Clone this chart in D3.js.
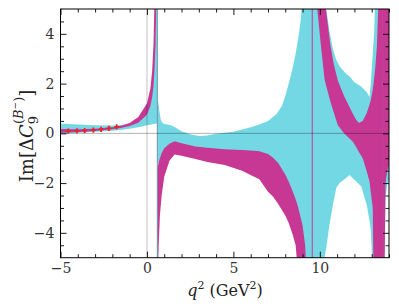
<!DOCTYPE html>
<html>
<head>
<meta charset="utf-8">
<script src="https://cdn.jsdelivr.net/npm/d3@7"></script>
<style>
  body { margin: 0; background: #fff; }
  svg { display: block; }
  text { font-family: "DejaVu Serif", serif; fill: #222; }
</style>
</head>
<body>
<div id="chart"></div>
<script>
// bands as [q2, lower, upper], split at the resonance poles
const cyanA = [[-5, -0.02, 0.40], [-4, 0.02, 0.36], [-3, 0.06, 0.33], [-2, 0.10, 0.32], [-1.5, 0.13, 0.34],
  [-1, 0.18, 0.38], [-0.5, 0.25, 0.52], [0, 0.33, 0.90], [0.2, 0.35, 1.35], [0.3, 0.37, 1.8], [0.4, 0.38, 2.6],
  [0.47, 0.39, 3.6], [0.52, 0.40, 4.6], [0.55, 0.40, 5.5], [0.6, 0.40, 5.5]];
const magentaA = [[-5, 0.02, 0.17], [-4, 0.05, 0.16], [-3, 0.09, 0.18], [-2, 0.16, 0.25], [-1.5, 0.22, 0.31],
  [-1, 0.30, 0.42], [-0.5, 0.43, 0.66], [0, 0.75, 1.2], [0.2, 1.1, 1.8], [0.3, 1.45, 2.5], [0.38, 1.9, 3.6],
  [0.44, 2.6, 5.5], [0.5, 3.6, 5.5], [0.55, 5.5, 5.5]];
const cyanB = [[0.6, -1.2, 1.3], [0.65, -1.2, 1.25], [0.72, -1.1, 0.9], [0.8, -1.0, 0.55], [0.9, -0.9, 0.42],
  [1.0, -0.75, 0.38], [1.2, -0.65, 0.36], [1.4, -0.55, 0.33], [1.7, -0.5, 0.22], [2.0, -0.55, 0.08],
  [2.5, -0.65, -0.04], [3.0, -0.7, -0.11], [3.5, -0.75, -0.09], [4.0, -0.8, -0.02], [5.0, -0.85, 0.06],
  [6.0, -0.9, 0.25], [6.5, -0.95, 0.36], [7.0, -1.05, 0.5], [7.5, -1.4, 0.78], [7.8, -1.7, 1.1],
  [8.0, -2.0, 1.5], [8.2, -2.3, 2.0], [8.44, -2.8, 2.67], [8.6, -3.3, 3.2], [8.79, -4.2, 4.0],
  [8.9, -5.5, 4.6], [9.0, -5.5, 5.5], [9.6, -5.5, 5.5]];
const magentaB = [[0.6, -5.5, -1.4], [0.64, -5.5, -1.3], [0.68, -4.5, -1.15], [0.75, -3.3, -1.0],
  [0.85, -2.5, -0.8], [1.0, -1.75, -0.6], [1.3, -1.1, -0.42], [1.6, -0.85, -0.32], [2.0, -0.9, -0.4],
  [2.8, -1.03, -0.53], [3.5, -1.15, -0.58], [4.5, -1.27, -0.64], [5.5, -1.5, -0.67], [6.2, -1.75, -0.7],
  [6.5, -1.85, -0.72], [7.0, -2.35, -0.83], [7.3, -2.55, -0.98], [7.6, -2.85, -1.2], [8.0, -3.3, -1.65],
  [8.2, -3.6, -1.95], [8.44, -4.1, -2.35], [8.6, -4.5, -2.65], [8.72, -5.5, -2.9], [9.0, -5.5, -3.7],
  [9.15, -5.5, -4.5], [9.22, -5.5, -5.5]];
const cyanC = [[9.6, -5.5, 5.5], [10.2, -5.5, 5.5], [10.27, -5.0, 5.3], [10.37, -4.6, 5.0], [10.56, -3.67, 4.1],
  [10.75, -2.9, 3.4], [10.95, -2.2, 2.95], [11.14, -2.0, 2.7], [11.52, -1.8, 2.4], [11.71, -1.67, 2.3],
  [12.0, -1.87, 2.05], [12.39, -2.13, 1.88], [12.71, -2.87, 1.66], [12.87, -3.5, 1.46], [12.95, -3.9, 2.0],
  [13.02, -5.0, 2.8], [13.06, -5.5, 3.2], [13.15, -5.5, 4.2], [13.2, -5.5, 5.5], [13.65, -5.5, 5.5]];
const magentaC = [[9.6, 5.5, 5.5], [9.85, 5.0, 5.5], [10.05, 3.6, 5.5], [10.27, 2.2, 5.5], [10.35, 1.95, 5.0],
  [10.6, 1.3, 3.6], [10.8, 0.85, 2.8], [11.04, 0.33, 2.13], [11.4, 0.0, 1.5], [11.9, -0.33, 0.8],
  [12.1, -0.55, 0.55], [12.26, -0.75, 0.42], [12.48, -1.0, 0.5], [12.7, -1.5, 0.8], [12.87, -1.93, 1.15],
  [12.95, -2.4, 1.35], [13.06, -3.0, 1.75], [13.1, -5.5, 1.95], [13.2, -5.5, 2.6], [13.3, -5.5, 3.5],
  [13.4, -5.5, 5.5], [13.65, -5.5, 5.5]];
const cyanD = [[13.65, -5.5, 5.5], [13.75, -5.0, 5.5], [13.8, -2.6, 5.5], [13.9, -2.05, 5.5], [14, -1.9, 5.5]];
const magentaD = [[13.65, -5.5, 5.5], [13.75, -5.0, 5.5], [13.8, -2.0, 5.5], [13.9, -1.5, 5.5], [14, -1.3, 5.5]];

// lattice-like points with errors
const pointQ = [-4.55, -4.05, -3.6, -3.1, -2.65, -2.2, -1.75];
const pointV = [0.09, 0.10, 0.11, 0.13, 0.16, 0.20, 0.26];
const pointErr = [0.11, 0.11, 0.11, 0.11, 0.11, 0.11, 0.11];

const xMajor = [-5, 0, 5, 10];
const xMinor = [-4, -3, -2, -1, 1, 2, 3, 4, 6, 7, 8, 9, 11, 12, 13, 14];
const yMajor = [-4, -2, 0, 2, 4];
const yMinor = [-4.5, -3.5, -3, -2.5, -1.5, -1, -0.5, 0.5, 1, 1.5, 2.5, 3, 3.5, 4.5];
const rhoQ = 0.6, jpsiQ = 9.56;

const width = 399, height = 308;
const x = d3.scaleLinear().domain([-5, 14]).range([60.5, 389]);
const y = d3.scaleLinear().domain([-5, 5]).range([257.7, 9]);

const svg = d3.select('#chart').append('svg')
  .attr('width', width).attr('height', height);

svg.append('clipPath').attr('id', 'clip')
  .append('rect')
  .attr('x', x(-5)).attr('y', y(5))
  .attr('width', x(14) - x(-5)).attr('height', y(-5) - y(5));

const plot = svg.append('g').attr('clip-path', 'url(#clip)');

const area = d3.area()
  .x(d => x(d[0]))
  .y0(d => y(d[1]))
  .y1(d => y(d[2]));

const cyan = '#73d8e3', magenta = '#c73894';

[cyanA, cyanB, cyanC, cyanD].forEach(seg => {
  plot.append('path').datum(seg).attr('d', area).attr('fill', cyan);
});
[magentaA, magentaB, magentaC, magentaD].forEach(seg => {
  plot.append('path').datum(seg).attr('d', area).attr('fill', magenta);
});

// reference lines
plot.append('line')
  .attr('x1', x(0)).attr('x2', x(0)).attr('y1', y(5)).attr('y2', y(-5))
  .attr('stroke', '#000').attr('stroke-opacity', 0.16).attr('stroke-width', 1.5);
plot.append('line')
  .attr('x1', x(rhoQ)).attr('x2', x(rhoQ)).attr('y1', y(5)).attr('y2', y(-5))
  .attr('stroke', '#6f93a8').attr('stroke-width', 1);
plot.append('line')
  .attr('x1', x(jpsiQ)).attr('x2', x(jpsiQ)).attr('y1', y(5)).attr('y2', y(-5))
  .attr('stroke', magenta).attr('stroke-width', 1);
plot.append('line')
  .attr('x1', x(-5)).attr('x2', x(14)).attr('y1', y(0)).attr('y2', y(0))
  .attr('stroke', '#000').attr('stroke-opacity', 0.3).attr('stroke-width', 1);

// points
const pts = plot.selectAll('.pt').data(pointQ).enter().append('g');
pts.append('line')
  .attr('x1', d => x(d)).attr('x2', d => x(d))
  .attr('y1', (d, i) => y(pointV[i] - pointErr[i]))
  .attr('y2', (d, i) => y(pointV[i] + pointErr[i]))
  .attr('stroke', '#e5262d').attr('stroke-width', 1.8);
pts.append('line')
  .attr('x1', d => x(d) - 2.5).attr('x2', d => x(d) + 2.5)
  .attr('y1', (d, i) => y(pointV[i])).attr('y2', (d, i) => y(pointV[i]))
  .attr('stroke', '#e5262d').attr('stroke-width', 1.8);

// axes
const fmt = d => d < 0 ? '\u2212' + Math.abs(d) : String(d);
function styleAxis(g) {
  g.attr('font-family', null);
  g.select('.domain').remove();
  g.selectAll('.tick line').attr('stroke', '#000').attr('stroke-width', 0.9);
  g.selectAll('text').style('font-size', '14px').style('fill', '#333')
    .style('font-family', '"DejaVu Serif", serif');
}

svg.append('g').attr('transform', 'translate(0,' + y(-5) + ')')
  .call(d3.axisBottom(x).tickValues(xMajor).tickSize(-6).tickPadding(5).tickFormat(fmt))
  .call(styleAxis);
svg.append('g').attr('transform', 'translate(0,' + y(-5) + ')')
  .call(d3.axisBottom(x).tickValues(xMinor).tickSize(-3.5).tickFormat(''))
  .call(styleAxis);
svg.append('g').attr('transform', 'translate(0,' + y(5) + ')')
  .call(d3.axisTop(x).tickValues(xMajor).tickSize(-6).tickFormat(''))
  .call(styleAxis);
svg.append('g').attr('transform', 'translate(0,' + y(5) + ')')
  .call(d3.axisTop(x).tickValues(xMinor).tickSize(-3.5).tickFormat(''))
  .call(styleAxis);

svg.append('g').attr('transform', 'translate(' + x(-5) + ',0)')
  .call(d3.axisLeft(y).tickValues(yMajor).tickSize(-6).tickPadding(6).tickFormat(fmt))
  .call(styleAxis);
svg.append('g').attr('transform', 'translate(' + x(-5) + ',0)')
  .call(d3.axisLeft(y).tickValues(yMinor).tickSize(-3.5).tickFormat(''))
  .call(styleAxis);
svg.append('g').attr('transform', 'translate(' + x(14) + ',0)')
  .call(d3.axisRight(y).tickValues(yMajor).tickSize(-6).tickFormat(''))
  .call(styleAxis);
svg.append('g').attr('transform', 'translate(' + x(14) + ',0)')
  .call(d3.axisRight(y).tickValues(yMinor).tickSize(-3.5).tickFormat(''))
  .call(styleAxis);

svg.append('rect')
  .attr('x', x(-5)).attr('y', y(5))
  .attr('width', x(14) - x(-5)).attr('height', y(-5) - y(5))
  .attr('fill', 'none').attr('stroke', '#000').attr('stroke-width', 1);

// axis labels
const xl = svg.append('text')
  .attr('x', 225).attr('y', 296).attr('text-anchor', 'middle').attr('font-size', 16);
xl.append('tspan').attr('font-style', 'italic').text('q');
xl.append('tspan').attr('font-size', 11).attr('dy', -7).text('2');
xl.append('tspan').attr('dy', 7).text(' (GeV');
xl.append('tspan').attr('font-size', 11).attr('dy', -7).text('2');
xl.append('tspan').attr('dy', 7).text(')');

const yl = svg.append('text')
  .attr('transform', 'translate(33,136) rotate(-90)')
  .attr('text-anchor', 'middle').attr('font-size', 18);
yl.append('tspan').text('Im[\u0394');
yl.append('tspan').attr('font-style', 'italic').text('C');
yl.append('tspan').attr('font-size', 13).attr('dy', 5).text('9');
yl.append('tspan').attr('font-size', 13).attr('dx', -8).attr('dy', -15).text('(');
yl.append('tspan').attr('font-size', 13).attr('font-style', 'italic').text('B');
yl.append('tspan').attr('font-size', 9).attr('dy', -5).text('\u2212');
yl.append('tspan').attr('font-size', 13).attr('dy', 5).text(')');
yl.append('tspan').attr('dy', 10).text(']');
</script>
</body>
</html>
